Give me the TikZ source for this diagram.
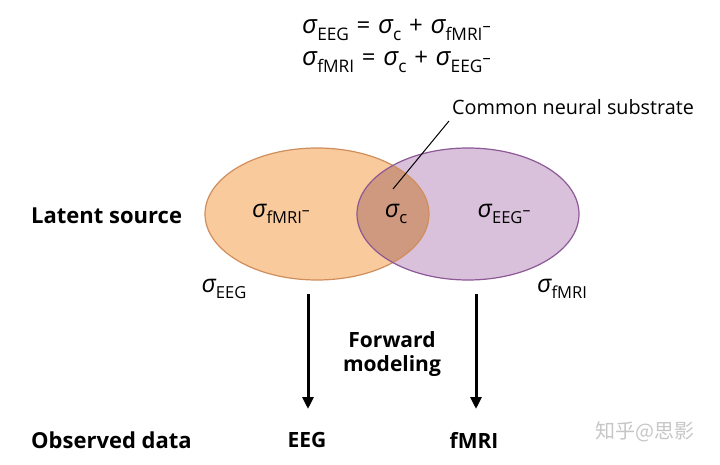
\documentclass[tikz,border=0pt]{standalone}
\usepackage{fontspec}
\setmainfont{Open Sans}
\newfontfamily\sigfont{Open Sans}
\newfontfamily\cjk{Noto Sans CJK SC}
\usetikzlibrary{arrows.meta,positioning}

\definecolor{eegfill}{RGB}{249,202,156}
\definecolor{eegline}{RGB}{208,142,92}
\definecolor{mrifill}{RGB}{217,193,220}
\definecolor{mriline}{RGB}{140,88,150}
\definecolor{commonfill}{RGB}{206,153,126}

% sigma with subscript, optional superscript minus on the subscript
\newcommand{\sigsub}[1]{{\sigfont\itshape\fontsize{1.08em}{1em}\selectfont σ}\raisebox{-0.26em}{\scalebox{0.72}{#1}}}
\newcommand{\negsup}{\raisebox{0.5em}{\scalebox{0.95}{–}}}
\newcommand{\opgap}{\hspace{0.32em}}

\begin{document}
\begin{tikzpicture}[x=1pt, y=-1pt, every node/.style={inner sep=0pt}]

    % Styles
    \tikzset{
        rowlabel/.style={font=\fontsize{22}{26}\selectfont\bfseries, anchor=west},
        datalabel/.style={font=\fontsize{21}{25}\selectfont\bfseries},
        sigmatext/.style={font=\fontsize{23}{28}\selectfont},
        eqline/.style={font=\fontsize{24}{28}\selectfont, anchor=west},
        notetext/.style={font=\fontsize{19.8}{22}\selectfont, anchor=west},
        flow/.style={-{Triangle[length=12pt, width=11pt]}, line width=3pt, black}
    }

    \useasboundingbox (0,0) rectangle (720,465);

    % Equations on top
    \node[eqline] (eqeeg) at (302,30) {\sigsub{EEG}\opgap=\opgap\sigsub{c}\opgap+\opgap\sigsub{fMRI\negsup}};
    \node[eqline] (eqfmri) at (302,62) {\sigsub{fMRI}\opgap=\opgap\sigsub{c}\opgap+\opgap\sigsub{EEG\negsup}};

    % Two overlapping latent sources
    \coordinate (eegc) at (317,214);
    \coordinate (mric) at (468,214);
    \fill[eegfill] (eegc) ellipse [x radius=112pt, y radius=66pt];
    \fill[mrifill] (mric) ellipse [x radius=111pt, y radius=66pt];
    \begin{scope}
        \clip (eegc) ellipse [x radius=112pt, y radius=66pt];
        \fill[commonfill] (mric) ellipse [x radius=111pt, y radius=66pt];
    \end{scope}
    \draw[eegline, line width=1.2pt] (eegc) ellipse [x radius=112pt, y radius=66pt];
    \draw[mriline, line width=1.2pt] (mric) ellipse [x radius=111pt, y radius=66pt];

    % Texts inside and next to the sources
    \node[sigmatext] (eegonly) at (281,214) {\sigsub{fMRI\negsup}};
    \node[sigmatext] (common) at (396,214) {\sigsub{c}};
    \node[sigmatext] (mrionly) at (504,214) {\sigsub{EEG\negsup}};
    \node[sigmatext] (eegname) at (224,289) {\sigsub{EEG}};
    \node[sigmatext] (mriname) at (562,289) {\sigsub{fMRI}};

    % Common substrate callout
    \node[notetext] (substrate) at (452,107) {Common neural substrate};
    \coordinate (substratedot) at (393,189);
    \draw[line width=1pt] (substratedot) -- (449,121);

    % Row labels
    \node[rowlabel] (latent) at (31,216) {Latent source};
    \node[rowlabel] (observed) at (31,440) {Observed data};

    % Forward modeling arrows
    \coordinate (eegstart) at (308,294);
    \coordinate (mristart) at (476,294);
    \node[datalabel] (eeg) at (307,440) {EEG};
    \node[datalabel] (fmri) at (474,440) {fMRI};
    \draw[flow] (eegstart) -- (eegstart |- 0,409);
    \draw[flow] (mristart) -- (mristart |- 0,409);
    \node[datalabel, align=center, font=\fontsize{21}{24.5}\selectfont\bfseries] (forward) at (392,354) {Forward\\modeling};

    % Watermark
    \node[font=\cjk\fontsize{20}{24}\selectfont, text=gray!45] (mark) at (645,432) {知乎@思影};

\end{tikzpicture}
\end{document}
